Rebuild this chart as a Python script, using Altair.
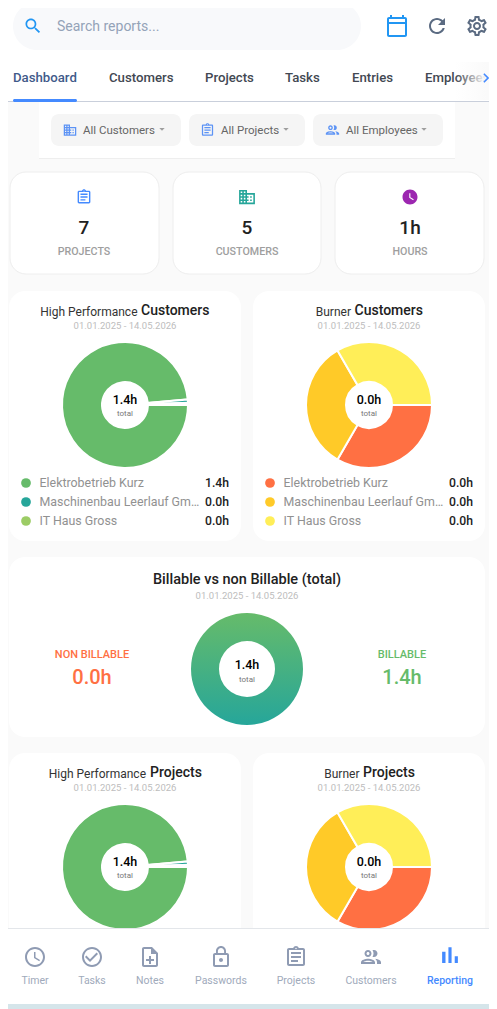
import math
import re
import altair as alt
import pandas as pd

# ---------- chart values ----------
customers = ["Elektrobetrieb Kurz", "Maschinenbau Leerlauf Gm…", "IT Haus Gross"]
high_customer_labels = ["1.4h", "0.0h", "0.0h"]
burner_customer_labels = ["0.0h", "0.0h", "0.0h"]
high_slice_values = [1.4, 0.012, 0.008]
burner_slice_values = [1, 1, 1]
billable_values = [1.4, 0.0]
billable_labels = ["1.4h", "0.0h"]
date_range = "01.01.2025 - 14.05.2026"
high_colors = ["#66bb6a", "#26a69a", "#9ccc65"]
burner_colors = ["#ff7043", "#ffca28", "#ffee58"]
tabs = ["Dashboard", "Customers", "Projects", "Tasks", "Entries", "Employees"]
filters = ["All Customers", "All Projects", "All Employees"]
stat_values = ["7", "5", "1h"]
stat_labels = ["PROJECTS", "CUSTOMERS", "HOURS"]
nav_labels = ["Timer", "Tasks", "Notes", "Passwords", "Projects", "Customers", "Reporting"]

# ---------- icon glyphs (24 grid) ----------
P_SEARCH = "M15.5 14h-.79l-.28-.27C15.41 12.59 16 11.11 16 9.5 16 5.91 13.09 3 9.5 3S3 5.91 3 9.5 5.91 16 9.5 16c1.61 0 3.09-.59 4.23-1.57l.27.28v.79l5 4.99L20.49 19l-4.99-5zm-6 0C7.01 14 5 11.99 5 9.5S7.01 5 9.5 5 14 7.01 14 9.5 11.99 14 9.5 14z"
P_CAL = "M20 3h-1V1h-2v2H7V1H5v2H4c-1.1 0-2 .9-2 2v16c0 1.1.9 2 2 2h16c1.1 0 2-.9 2-2V5c0-1.1-.9-2-2-2zm0 18H4V10h16v11zm0-13H4V5h16v3z"
P_REFRESH = "M17.65 6.35C16.2 4.9 14.21 4 12 4c-4.42 0-7.99 3.58-7.99 8s3.57 8 7.99 8c3.73 0 6.84-2.55 7.73-6h-2.08c-.82 2.33-3.04 4-5.65 4-3.31 0-6-2.69-6-6s2.69-6 6-6c1.66 0 3.14.69 4.22 1.78L13 11h7V4l-2.35 2.35z"
P_GEAR = "M19.43 12.98c.04-.32.07-.64.07-.98 0-.34-.03-.66-.07-.98l2.11-1.65c.19-.15.24-.42.12-.64l-2-3.46c-.09-.16-.26-.25-.44-.25-.06 0-.12.01-.17.03l-2.49 1c-.52-.4-1.08-.73-1.69-.98l-.38-2.65C14.46 2.18 14.25 2 14 2h-4c-.25 0-.46.18-.49.42l-.38 2.65c-.61.25-1.17.59-1.69.98l-2.49-1c-.06-.02-.12-.03-.18-.03-.17 0-.34.09-.43.25l-2 3.46c-.13.22-.07.49.12.64l2.11 1.65c-.04.32-.07.65-.07.98 0 .33.03.66.07.98l-2.11 1.65c-.19.15-.24.42-.12.64l2 3.46c.09.16.26.25.44.25.06 0 .12-.01.17-.03l2.49-1c.52.4 1.08.73 1.69.98l.38 2.65c.03.24.24.42.49.42h4c.25 0 .46-.18.49-.42l.38-2.65c.61-.25 1.17-.59 1.69-.98l2.49 1c.06.02.12.03.18.03.17 0 .34-.09.43-.25l2-3.46c.12-.22.07-.49-.12-.64l-2.11-1.65zm-1.98-1.71c.04.31.05.52.05.73 0 .21-.02.43-.05.73l-.14 1.13.89.7 1.08.84-.7 1.21-1.27-.51-1.04-.42-.9.68c-.43.32-.84.56-1.25.73l-1.06.43-.16 1.13-.2 1.35h-1.4l-.19-1.35-.16-1.13-1.06-.43c-.43-.18-.83-.41-1.23-.71l-.91-.7-1.06.43-1.27.51-.7-1.21 1.08-.84.89-.7-.14-1.13c-.03-.31-.05-.54-.05-.74s.02-.43.05-.73l.14-1.13-.89-.7-1.08-.84.7-1.21 1.27.51 1.04.42.9-.68c.43-.32.84-.56 1.25-.73l1.06-.43.16-1.13.2-1.35h1.39l.19 1.35.16 1.13 1.06.43c.43.18.83.41 1.23.71l.91.7 1.06-.43 1.27-.51.7 1.21-1.07.85-.89.7.14 1.13zM12 8c-2.21 0-4 1.79-4 4s1.79 4 4 4 4-1.79 4-4-1.79-4-4-4zm0 6c-1.1 0-2-.9-2-2s.9-2 2-2 2 .9 2 2-.9 2-2 2z"
P_DOMAIN = "M12 7V3H2v18h20V7H12zM6 19H4v-2h2v2zm0-4H4v-2h2v2zm0-4H4V9h2v2zm0-4H4V5h2v2zm4 12H8v-2h2v2zm0-4H8v-2h2v2zm0-4H8V9h2v2zm0-4H8V5h2v2zm10 12h-8v-2h2v-2h-2v-2h2v-2h-2V9h8v10zm-2-8h-2v2h2v-2zm0 4h-2v2h2v-2z"
P_ASSIGN = "M7 15h7v2H7zm0-4h10v2H7zm0-4h10v2H7zM19 3h-4.18C14.4 1.84 13.3 1 12 1s-2.4.84-2.82 2H5c-1.1 0-2 .9-2 2v14c0 1.1.9 2 2 2h14c1.1 0 2-.9 2-2V5c0-1.1-.9-2-2-2zm-7-.25c.41 0 .75.34.75.75s-.34.75-.75.75-.75-.34-.75-.75.34-.75.75-.75zM19 19H5V5h14v14z"
P_GROUP = "M9 13.75c-2.34 0-7 1.17-7 3.5V19h14v-1.75c0-2.33-4.66-3.5-7-3.5zM4.34 17c.84-.58 2.87-1.25 4.66-1.25s3.82.67 4.66 1.25H4.34zM9 12c1.93 0 3.5-1.57 3.5-3.5S10.93 5 9 5 5.5 6.57 5.5 8.5 7.07 12 9 12zm0-5c.83 0 1.5.67 1.5 1.5S9.83 10 9 10s-1.5-.67-1.5-1.5S8.17 7 9 7zm7.04 6.81c1.16.84 1.96 1.96 1.96 3.44V19h4v-1.75c0-2.02-3.5-3.17-5.96-3.44zM15 12c1.93 0 3.5-1.57 3.5-3.5S16.93 5 15 5c-.54 0-1.04.13-1.5.35.63.89 1 1.98 1 3.15s-.37 2.26-1 3.15c.46.22.96.35 1.5.35z"
P_SCHEDULE = "M12 2C6.5 2 2 6.5 2 12s4.5 10 10 10 10-4.5 10-10S17.5 2 12 2zm4.2 14.2L11 13V7h1.5v5.2l4.5 2.7-.8 1.3z"
P_TIME = "M11.99 2C6.47 2 2 6.48 2 12s4.47 10 9.99 10C17.52 22 22 17.52 22 12S17.52 2 11.99 2zM12 20c-4.42 0-8-3.58-8-8s3.58-8 8-8 8 3.58 8 8-3.58 8-8 8zm.5-13H11v6l5.25 3.15.75-1.23-4.5-2.67z"
P_CHECK = "M16.59 7.58L10 14.17l-3.59-3.58L5 12l5 5 8-8zM12 2C6.48 2 2 6.48 2 12s4.48 10 10 10 10-4.48 10-10S17.52 2 12 2zm0 18c-4.42 0-8-3.58-8-8s3.58-8 8-8 8 3.58 8 8-3.58 8-8 8z"
P_NOTE = "M13 11h-2v3H8v2h3v3h2v-3h3v-2h-3zm1-9H6c-1.1 0-2 .9-2 2v16c0 1.1.89 2 1.99 2H18c1.1 0 2-.9 2-2V8l-6-6zm4 18H6V4h7v5h5v11z"
P_LOCK = "M12 17c1.1 0 2-.9 2-2s-.9-2-2-2-2 .9-2 2 .9 2 2 2zm6-9h-1V6c0-2.76-2.24-5-5-5S7 3.24 7 6v2H6c-1.1 0-2 .9-2 2v10c0 1.1.9 2 2 2h12c1.1 0 2-.9 2-2V10c0-1.1-.9-2-2-2zM8.9 6c0-1.71 1.39-3.1 3.1-3.1s3.1 1.39 3.1 3.1v2H8.9V6zM18 20H6V10h12v10z"
P_BARS = "M5 9.2h3V19H5zM10.6 5h2.8v14h-2.8zm5.6 8H19v6h-2.8z"
P_CHEVRON = "M10 6L8.59 7.41 13.17 12l-4.58 4.59L10 18l6-6z"
P_DROP = "M7 10l5 5 5-5z"


def unit_path(path):
    """Rescale a 24-grid path to the [-1, 1] box that Vega's custom symbols use."""
    out = []
    for cmd, args in re.findall(r"([MmLlHhVvCcSsQqTtZz])([^MmLlHhVvCcSsQqTtZz]*)", path):
        nums = [float(n) for n in re.findall(r"[-+]?(?:\d*\.\d+|\d+\.?)", args)]
        off = 12 if cmd.isupper() else 0
        vals = [round((n - off) / 12, 5) for n in nums]
        out.append(cmd + " ".join(str(v) for v in vals))
    return "".join(out)


# ---------- page-pixel scales ----------
X = alt.X("x:Q", scale=alt.Scale(domain=[8, 489], nice=False, zero=False), axis=None)
Y = alt.Y("y:Q", scale=alt.Scale(domain=[1009, 8], nice=False, zero=False), axis=None)
FONT = "Roboto"
layers = []


def boxes(rows, **mark):
    df = pd.DataFrame(rows, columns=["x", "x2", "y", "y2"])
    layers.append(alt.Chart(df).mark_rect(**mark).encode(x=X, x2="x2:Q", y=Y, y2="y2:Q"))


def texts(rows, **mark):
    df = pd.DataFrame(rows, columns=["x", "y", "label"])
    mark.setdefault("baseline", "middle")
    mark.setdefault("font", FONT)
    layers.append(alt.Chart(df).mark_text(**mark).encode(x=X, y=Y, text="label:N"))


def icons(path, color, size, rows):
    df = pd.DataFrame(rows, columns=["x", "y"])
    layers.append(
        alt.Chart(df)
        .mark_point(shape=unit_path(path), filled=True, fill=color, opacity=1, size=size * size, strokeWidth=0)
        .encode(x=X, y=Y)
    )


def donut(cx, cy, outer, inner, values, colors, names, stroke_w=2.0):
    df = pd.DataFrame({"name": names, "share": values, "col": colors})
    df["x"], df["y"], df["seq"] = cx, cy, range(len(df))
    layers.append(
        alt.Chart(df)
        .mark_arc(radius=outer, radius2=inner, stroke="#ffffff", strokeWidth=stroke_w)
        .encode(
            x=X,
            y=Y,
            theta=alt.Theta("share:Q", stack="normalize",
                            scale=alt.Scale(domain=[0, 1], range=[math.pi / 2, math.pi * 2.5])),
            fill=alt.Fill("col:N", scale=None),
            order=alt.Order("seq:Q"),
            detail="name:N",
        )
    )


def pie_card(x0, y0, y1, cx, cy, left, bold, left_end, bold_start, title_y, date_y, center, values, colors):
    boxes([(x0, x0 + 232, y0, y1)], fill="#ffffff", cornerRadius=16)
    texts([(left_end, title_y + 0.5, left)], fontSize=12, color="#333333", align="right")
    texts([(bold_start, title_y, bold)], fontSize=14, fontWeight=500, color="#212121", align="left")
    texts([(x0 + 116, date_y, date_range)], fontSize=9.5, color="#bdbdbd", align="center")
    donut(cx, cy, 63, 23, values, colors, customers)
    texts([(cx, cy - 5, center)], fontSize=12.5, fontWeight=500, color="#000000", align="center")
    texts([(cx, cy + 8.5, "total")], fontSize=8, color="#777777", align="center")


def legend(x_dot, x_val, labels, colors):
    rows = [483, 502, 521]
    df = pd.DataFrame({"x": [x_dot] * 3, "y": rows, "col": colors})
    layers.append(
        alt.Chart(df)
        .mark_point(shape="circle", filled=True, size=95, opacity=1, strokeWidth=0)
        .encode(x=X, y=Y, fill=alt.Fill("col:N", scale=None))
    )
    texts([(x_dot + 13.5, y, n) for y, n in zip(rows, customers)], fontSize=12.4, color="#919191", align="left")
    texts([(x_val, y, v) for y, v in zip(rows, labels)], fontSize=12.2, fontWeight=500, color="#212121", align="right")


# ---------- header ----------
boxes([(0, 497, 0, 102)], fill="#ffffff")
boxes([(13, 361, 2, 50)], fill="#f8f9fb", cornerRadius=24)
icons(P_SEARCH, "#2196f3", 20, [(33, 26)])
texts([(57, 27, "Search reports...")], fontSize=14, color="#94a3b8", align="left")
icons(P_CAL, "#2196f3", 24, [(397, 26)])
icons(P_REFRESH, "#5b6b82", 24, [(437, 26)])
icons(P_GEAR, "#5b6b82", 24, [(477, 26)])

tab_x = [13, 109, 205, 285, 352, 425]
texts([(tab_x[0], 77.5, tabs[0])], fontSize=13.2, fontWeight=500, color="#3f5a8a", align="left")
texts([(x, 77.5, t) for x, t in zip(tab_x[1:], tabs[1:])], fontSize=13.2, fontWeight=500, color="#424852", align="left")
layers.append(
    alt.Chart(pd.DataFrame({"x": [455], "x2": [497], "y": [62], "y2": [100]}))
    .mark_rect(fill=alt.LinearGradient(gradient="linear",
                                       stops=[alt.GradientStop(offset=0, color="rgba(250,250,250,0)"),
                                              alt.GradientStop(offset=0.75, color="#fafafa")],
                                       x1=0, x2=1, y1=0, y2=0))
    .encode(x=X, x2="x2:Q", y=Y, y2="y2:Q")
)
icons(P_CHEVRON, "#448aff", 19, [(486, 78)])

# ---------- page background below header ----------
boxes([(0, 497, 102, 1009)], fill="#fafafa")
boxes([(0, 497, 101, 102)], fill="#c9cfdb")
boxes([(13, 77, 99, 102)], fill="#448aff", cornerRadius=1.5)

# ---------- filters ----------
boxes([(39, 455, 102, 158)], fill="#ffffff")
boxes([(39, 455, 158, 159)], fill="#eeeeee")
boxes([(51, 181, 114, 146), (189, 305, 114, 146), (313, 443, 114, 146)], fill="#f5f5f5", cornerRadius=8)
icons(P_DOMAIN, "#5c93f5", 15, [(70, 130)])
icons(P_ASSIGN, "#5c93f5", 15, [(207.5, 130)])
icons(P_GROUP, "#5c93f5", 16, [(332.5, 130)])
texts([(83, 130.5, filters[0]), (221, 130.5, filters[1]), (346, 130.5, filters[2])],
      fontSize=11.5, color="#666666", align="left")
icons(P_DROP, "#9e9e9e", 13, [(162, 129), (286, 129), (424, 129)])

# ---------- stat cards ----------
stat_x = [84, 247, 410]
boxes([(10, 159, 172, 274), (173, 321, 172, 274), (335, 484, 172, 274)],
      fill="#ffffff", stroke="#eeeeee", strokeWidth=1, cornerRadius=16)
icons(P_ASSIGN, "#448aff", 17, [(stat_x[0], 197)])
icons(P_DOMAIN, "#26a69a", 19, [(stat_x[1], 197)])
icons(P_SCHEDULE, "#9c27b0", 18, [(stat_x[2], 197)])
texts([(x, 227.5, v) for x, v in zip(stat_x, stat_values)], fontSize=19, fontWeight=500, color="#212121", align="center")
texts([(x, 251.5, v) for x, v in zip(stat_x, stat_labels)], fontSize=10.7, fontWeight=500, color="#9e9e9e", align="center")

# ---------- customer pies ----------
pie_card(9, 291, 541, 125, 405, "High Performance", "Customers", 137.5, 141, 311, 326, "1.4h",
         high_slice_values, high_colors)
legend(26, 229, high_customer_labels, high_colors)
pie_card(253, 291, 541, 369, 405, "Burner", "Customers", 351, 354.5, 311, 326, "0.0h",
         burner_slice_values, burner_colors)
legend(270, 473, burner_customer_labels, burner_colors)

# ---------- billable ----------
boxes([(9, 485, 557, 737)], fill="#ffffff", cornerRadius=16)
texts([(247, 579.5, "Billable vs non Billable (total)")], fontSize=14.5, fontWeight=500, color="#212121", align="center")
texts([(247, 595.5, date_range)], fontSize=9.5, color="#bdbdbd", align="center")
bill_df = pd.DataFrame({"name": ["Billable", "Non billable"], "share": billable_values})
bill_df["x"], bill_df["y"], bill_df["seq"] = 247, 669, range(2)
layers.append(
    alt.Chart(bill_df)
    .mark_arc(radius=56, radius2=28,
              fill=alt.LinearGradient(gradient="linear",
                                      stops=[alt.GradientStop(offset=0, color="#66bb6a"),
                                             alt.GradientStop(offset=1, color="#26a69a")],
                                      x1=0, x2=0, y1=0, y2=1))
    .encode(x=X, y=Y,
            theta=alt.Theta("share:Q", stack="normalize",
                            scale=alt.Scale(domain=[0, 1], range=[math.pi / 2, math.pi * 2.5])),
            order=alt.Order("seq:Q"), detail="name:N")
)
texts([(247, 665, billable_labels[0])], fontSize=12.5, fontWeight=500, color="#000000", align="center")
texts([(247, 680, "total")], fontSize=8, color="#777777", align="center")
texts([(92, 654.5, "NON BILLABLE")], fontSize=11, fontWeight=500, color="#ff7043", align="center")
texts([(92, 677.5, billable_labels[1])], fontSize=20, fontWeight=500, color="#ff7043", align="center")
texts([(402, 654.5, "BILLABLE")], fontSize=11, fontWeight=500, color="#66bb6a", align="center")
texts([(402, 677.5, billable_labels[0])], fontSize=20, fontWeight=500, color="#66bb6a", align="center")

# ---------- project pies ----------
pie_card(9, 753, 1009, 125, 867, "High Performance", "Projects", 146, 150, 773, 788, "1.4h",
         high_slice_values, high_colors)
pie_card(253, 753, 1009, 369, 867, "Burner", "Projects", 359.5, 363, 773, 788, "0.0h",
         burner_slice_values, burner_colors)

# ---------- bottom nav ----------
boxes([(0, 497, 928, 1004)], fill="#ffffff")
boxes([(0, 497, 928, 929)], fill="#e3e6ea")
boxes([(0, 497, 1004, 1009)], fill="#d5e5ea")
nav_x = [35, 92, 150, 221, 296, 371, 450]
nav_icons = [P_TIME, P_CHECK, P_NOTE, P_LOCK, P_ASSIGN, P_GROUP]
for x, p in zip(nav_x, nav_icons):
    icons(p, "#8f9bb3", 24, [(x, 957)])
icons(P_BARS, "#448aff", 27, [(nav_x[6], 955)])
texts([(x, 980.5, t) for x, t in zip(nav_x[:6], nav_labels[:6])], fontSize=10.5, color="#a0aabb", align="center")
texts([(nav_x[6], 980.5, nav_labels[6])], fontSize=10.5, fontWeight=500, color="#448aff", align="center")

chart = (
    alt.layer(*layers)
    .properties(width=481, height=1001, padding=0, autosize="none", background="#fafafa")
    .configure_view(stroke=None)
)
chart.save("out.html", embed_options={"renderer": "svg", "actions": False})
